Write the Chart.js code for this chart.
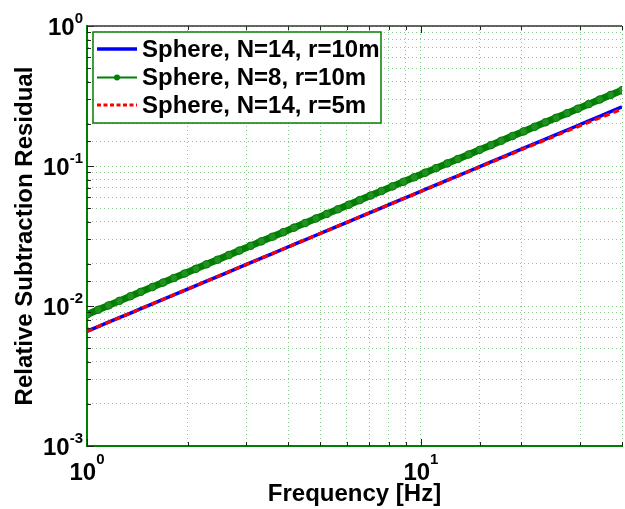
<!DOCTYPE html>
<html>
<head>
<meta charset="utf-8">
<script src="https://cdn.jsdelivr.net/npm/chart.js@4.4.1/dist/chart.umd.min.js"></script>
<style>
  html, body { margin: 0; padding: 0; background: #fff; overflow: hidden; width: 625px; height: 509px; }
  #wrap { position: relative; width: 627px; height: 509px; }
</style>
</head>
<body>
<div id="wrap"><canvas id="c"></canvas></div>
<script>
// ---- data ----
const freq = [1, 1.08, 1.16, 1.25, 1.35, 1.45, 1.57, 1.69, 1.82, 1.96, 2.12, 2.28, 2.46, 2.66, 2.86, 3.09, 3.33, 3.59, 3.87, 4.17, 4.5, 4.85, 5.23, 5.64, 6.08, 6.56, 7.07, 7.62, 8.22, 8.86, 9.55, 10.3, 11.1, 12, 12.9, 13.9, 15, 16.2, 17.4, 18.8, 20.3, 21.9, 23.6, 25.4, 27.4, 29.5, 31.8, 34.3, 37, 40];

const sphereN14r10 = [0.0066, 0.00713, 0.00766, 0.00825, 0.00891, 0.00957, 0.01036, 0.01115, 0.01201, 0.01294, 0.01399, 0.01505, 0.01624, 0.01756, 0.01888, 0.02039, 0.02198, 0.02369, 0.02554, 0.02752, 0.0297, 0.03201, 0.03452, 0.03722, 0.04013, 0.0433, 0.04666, 0.05029, 0.05425, 0.05848, 0.06303, 0.06798, 0.07326, 0.0792, 0.08514, 0.09174, 0.099, 0.1069, 0.1148, 0.1241, 0.134, 0.1445, 0.1558, 0.1676, 0.1808, 0.1947, 0.2099, 0.2264, 0.2442, 0.264];

const sphereN8r10 = [0.0087, 0.0094, 0.01009, 0.01088, 0.01175, 0.01262, 0.01366, 0.0147, 0.01583, 0.01705, 0.01844, 0.01984, 0.0214, 0.02314, 0.02488, 0.02688, 0.02897, 0.03123, 0.03367, 0.03628, 0.03915, 0.0422, 0.0455, 0.04907, 0.0529, 0.05707, 0.06151, 0.06629, 0.07151, 0.07708, 0.08309, 0.08961, 0.09657, 0.1044, 0.1122, 0.1209, 0.1305, 0.1409, 0.1514, 0.1636, 0.1766, 0.1905, 0.2053, 0.221, 0.2384, 0.2567, 0.2767, 0.2984, 0.3219, 0.348];

const sphereN14r5 = [0.0066, 0.00713, 0.00766, 0.00825, 0.00891, 0.00957, 0.01036, 0.01115, 0.01201, 0.01294, 0.01399, 0.01505, 0.01624, 0.01756, 0.01888, 0.02039, 0.02198, 0.02369, 0.02554, 0.02752, 0.0297, 0.03201, 0.03452, 0.03722, 0.04013, 0.0433, 0.04666, 0.05029, 0.0542, 0.0584, 0.0629, 0.0678, 0.0730, 0.0789, 0.0847, 0.0912, 0.0984, 0.1061, 0.1139, 0.1229, 0.1326, 0.1428, 0.1537, 0.1651, 0.1777, 0.1909, 0.2052, 0.2207, 0.2372, 0.2554];

const legendLabels = ['Sphere, N=14, r=10m', 'Sphere, N=8, r=10m', 'Sphere, N=14, r=5m'];

// tick labels: base "10" with exponent
const xTickValues = [1, 10];
const xTickExponents = ['0', '1'];
const yTickValues = [0.001, 0.01, 0.1, 1];
const yTickExponents = ['-3', '-2', '-1', '0'];
const tickBase = '10';

const xTitle = 'Frequency [Hz]';
const yTitle = 'Relative Subtraction Residual';

// ---- chart ----
const FONT = '"Liberation Sans", Arial, Helvetica, sans-serif';
const toPts = ys => freq.map((f, i) => ({ x: f, y: ys[i] }));
const colors = ['#0000ff', '#008000', '#ff0000'];

const isPow10 = v => Math.abs(Math.log10(v) - Math.round(Math.log10(v))) < 1e-6;

// inward tick marks (MATLAB style) at the scale's own ticks
const innerTicks = {
  id: 'innerTicks',
  afterDatasetsDraw(chart) {
    const ctx = chart.ctx, a = chart.chartArea;
    const xs = chart.scales.x, ys = chart.scales.y;
    ctx.save();
    ctx.strokeStyle = '#222';
    ctx.lineWidth = 1;
    ctx.beginPath();
    xs.ticks.forEach(t => {
      const px = Math.round(xs.getPixelForValue(t.value)) + 0.5;
      const len = isPow10(t.value) ? 7 : 4;
      ctx.moveTo(px, a.bottom); ctx.lineTo(px, a.bottom - len);
      ctx.moveTo(px, a.top); ctx.lineTo(px, a.top + len);
    });
    ys.ticks.forEach(t => {
      const py = Math.round(ys.getPixelForValue(t.value)) + 0.5;
      const len = isPow10(t.value) ? 7 : 4;
      ctx.moveTo(a.left, py); ctx.lineTo(a.left + len, py);
    });
    ctx.stroke();
    ctx.strokeStyle = '#333';
    ctx.lineWidth = 1.5;
    ctx.beginPath(); ctx.moveTo(a.left, a.top); ctx.lineTo(a.right, a.top); ctx.stroke();
    ctx.restore();
  }
};

const powerTickLabels = {
  id: 'powerTickLabels',
  afterDraw(chart) {
    const ctx = chart.ctx;
    const xs = chart.scales.x, ys = chart.scales.y;
    const baseFont = 'bold 24px ' + FONT, expFont = 'bold 15px ' + FONT;
    ctx.save();
    ctx.fillStyle = '#000';
    ctx.textBaseline = 'alphabetic';
    ctx.textAlign = 'left';
    yTickValues.forEach((v, i) => {
      const py = ys.getPixelForValue(v);
      ctx.font = expFont; const we = ctx.measureText(yTickExponents[i]).width;
      ctx.font = baseFont; const wb = ctx.measureText(tickBase).width;
      const right = ys.right - 4;
      ctx.font = baseFont; ctx.fillText(tickBase, right - we - wb, py + 8.5);
      ctx.font = expFont; ctx.fillText(yTickExponents[i], right - we, py - 3);
    });
    xTickValues.forEach((v, i) => {
      const px = xs.getPixelForValue(v);
      ctx.font = expFont; const we = ctx.measureText(xTickExponents[i]).width;
      ctx.font = baseFont; const wb = ctx.measureText(tickBase).width;
      const start = px - (wb + we) / 2;
      const ax = xs.top;
      ctx.font = baseFont; ctx.fillText(tickBase, start, ax + 34);
      ctx.font = expFont; ctx.fillText(xTickExponents[i], start + wb, ax + 17.5);
    });
    ctx.restore();
  }
};

const insideLegend = {
  id: 'insideLegend',
  afterDraw(chart) {
    const ctx = chart.ctx;
    const a = chart.chartArea;
    const bx = a.left + 6, by = a.top + 6, bw = 288, bh = 91;
    ctx.save();
    ctx.fillStyle = '#fff';
    ctx.fillRect(bx, by, bw, bh);
    ctx.strokeStyle = '#008000';
    ctx.lineWidth = 1.5;
    ctx.strokeRect(bx, by, bw, bh);
    const rows = [by + 17, by + 45.5, by + 73];
    const x0 = bx + 4, x1 = bx + 44;
    ctx.font = 'bold 24px ' + FONT;
    ctx.textBaseline = 'middle';
    ctx.textAlign = 'left';
    legendLabels.forEach((lab, i) => {
      const y = rows[i];
      ctx.strokeStyle = colors[i];
      ctx.lineWidth = i === 0 ? 3.5 : (i === 1 ? 2 : 3);
      ctx.setLineDash(i === 2 ? [4, 2.5] : []);
      ctx.beginPath(); ctx.moveTo(x0, y); ctx.lineTo(x1, y); ctx.stroke();
      ctx.setLineDash([]);
      if (i === 1) {
        ctx.fillStyle = colors[1];
        ctx.beginPath(); ctx.arc((x0 + x1) / 2, y, 3, 0, Math.PI * 2); ctx.fill();
      }
      ctx.fillStyle = '#000';
      ctx.fillText(lab, bx + 49, y + 1);
    });
    ctx.restore();
  }
};

new Chart(document.getElementById('c'), {
  type: 'line',
  data: {
    datasets: [
      { label: legendLabels[0], data: toPts(sphereN14r10), borderColor: colors[0], backgroundColor: colors[0],
        borderWidth: 3.5, pointRadius: 0, order: 3 },
      { label: legendLabels[1], data: toPts(sphereN8r10), borderColor: colors[1], backgroundColor: colors[1],
        borderWidth: 7, pointRadius: 3.8, pointBorderWidth: 1, pointBorderColor: '#0a7a0a', pointBackgroundColor: '#1f921f', order: 2 },
      { label: legendLabels[2], data: toPts(sphereN14r5), borderColor: colors[2], backgroundColor: colors[2],
        borderWidth: 3.2, borderDash: [6, 4], pointRadius: 0, order: 1 }
    ]
  },
  options: {
    responsive: true,
    maintainAspectRatio: false,
    animation: false,
    layout: { padding: { top: 26, right: 0, left: 0, bottom: 0 } },
    plugins: { legend: { display: false }, tooltip: { enabled: false } },
    elements: { line: { tension: 0 } },
    scales: {
      x: {
        type: 'logarithmic',
        min: 1, max: 40,
        afterFit(s) { s.height = 63; },
        grid: { color: 'rgba(0,128,0,0.45)', lineWidth: 1, drawTicks: false },
        border: { color: '#008000', width: 2, dash: [1, 3] },
        ticks: { display: false, autoSkip: false },
        title: { display: true, text: xTitle, color: '#000', padding: { top: 0, bottom: 0 },
          font: { family: FONT, size: 24, weight: 'bold' } }
      },
      y: {
        type: 'logarithmic',
        min: 0.001, max: 1,
        afterFit(s) { s.width = 87; },
        grid: { color: 'rgba(0,128,0,0.45)', lineWidth: 1, drawTicks: false },
        border: { color: '#008000', width: 2, dash: [1, 3] },
        ticks: { display: false, autoSkip: false },
        title: { display: true, text: yTitle, color: '#000', padding: { top: 10.5, bottom: 0 },
          font: { family: FONT, size: 24, weight: 'bold' } }
      }
    }
  },
  plugins: [innerTicks, insideLegend, powerTickLabels]
});
</script>
</body>
</html>
